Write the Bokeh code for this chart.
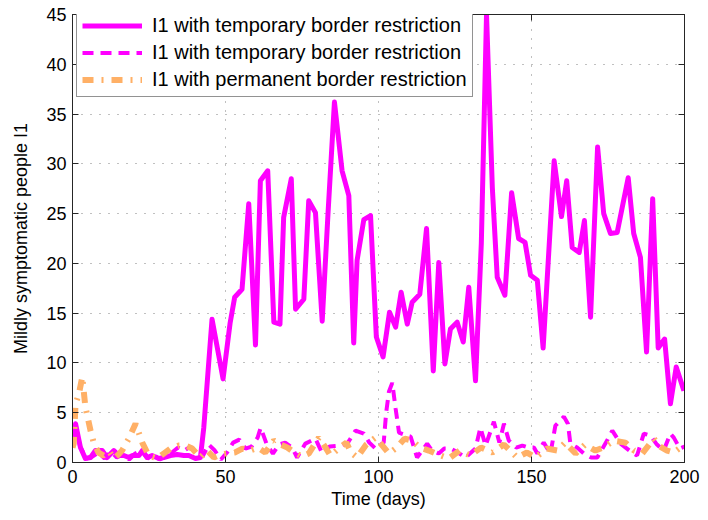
from bokeh.plotting import figure
from bokeh.models import (Range1d, LinearAxis, FixedTicker, Legend, LegendItem)
from bokeh.embed import file_html
from bokeh.resources import INLINE

# ---- data ----
t_temp_solid = [0.0, 1.0, 2.6, 4.2, 5.9, 7.5, 9.7, 11.3, 13.5, 15.1, 16.8, 18.4, 19.5, 21.7, 22.8,
                24.4, 26.0, 28.2, 29.8, 32.0, 34.2, 36.4, 38.0, 40.2, 41.8, 42.9, 45.6, 49.2, 51.5,
                53.0, 55.4, 57.6, 59.8, 61.4, 63.8, 65.8, 67.8, 69.0, 71.5, 72.9, 75.6, 77.2, 79.4,
                81.6, 83.5, 85.6, 88.1, 90.3, 91.9, 93.0, 95.2, 97.4, 99.3, 101.5, 103.6, 105.6,
                107.4, 109.4, 111.0, 113.5, 115.7, 117.9, 119.7, 121.7, 123.5, 125.7, 127.7, 129.5,
                131.7, 133.6, 135.3, 137.2, 138.8, 141.3, 143.5, 145.8, 147.9, 149.7, 151.9, 153.8,
                157.4, 159.8, 161.5, 163.3, 165.6, 167.3, 169.3, 171.6, 173.6, 175.8, 178.0, 181.6,
                183.4, 185.6, 187.6, 189.6, 191.4, 193.5, 195.4, 197.3, 199.8]
i1_temp_solid = [1.9, 3.9, 1.5, 0.4, 0.5, 1.2, 1.2, 0.5, 1.2, 0.7, 0.7, 0.5, 0.7, 0.7, 1.2,
                 0.5, 0.7, 0.4, 0.5, 0.7, 0.8, 0.7, 0.7, 0.4, 0.5, 3.5, 14.4, 8.4, 14.0,
                 16.6, 17.4, 26.0, 11.8, 28.3, 29.3, 14.1, 13.9, 24.6, 28.5, 15.4, 16.4, 26.3, 25.1,
                 14.2, 25.0, 36.2, 29.3, 26.8, 12.0, 20.3, 24.4, 24.8, 12.6, 10.6, 15.1, 13.6,
                 17.1, 13.9, 16.1, 16.9, 23.5, 9.2, 20.1, 9.9, 13.4, 14.1, 12.1, 17.6,
                 8.2, 22.0, 45.0, 27.6, 18.6, 16.8, 27.1, 22.5, 22.1, 18.8, 18.3, 11.5,
                 30.3, 24.7, 28.3, 21.6, 21.1, 24.3, 14.6, 31.7, 25.0, 23.0, 23.1, 28.6,
                 23.0, 20.6, 11.1, 26.5, 11.5, 12.4, 5.9, 9.6, 7.2]

t_temp_dash = [0.0, 1.0, 2.5, 4.5, 6.5, 8.5, 10.5, 12.5, 14.5, 16.5, 18.5, 20.5, 22.5, 24.5, 26.5,
               28.5, 30.5, 32.5, 34.5, 36.5, 38.5, 40.5, 42.5, 44.5, 46.5, 48.5, 50.5, 52.5, 54.5,
               56.5, 58.5, 60.5, 61.5, 63.5, 65.5, 67.5, 69.5, 71.8, 73.4, 76.1, 79.4, 81.5, 84.0,
               87.6, 90.0, 92.5, 95.2, 97.0, 99.0, 101.7, 102.5, 103.4, 104.5, 105.6, 106.7, 109.4,
               110.5, 112.6, 115.9, 117.5, 119.7, 121.5, 123.5, 126.0, 128.4, 131.7, 133.3, 135.0,
               137.7, 139.5, 141.0, 142.6, 145.0, 147.0, 149.0, 150.8, 151.9, 154.0, 156.2, 157.8,
               160.6, 161.9, 162.7, 164.9, 167.1, 169.5, 171.5, 174.7, 176.4, 179.1, 182.0, 184.5,
               186.7, 188.9, 191.0, 193.2, 195.4, 196.5, 198.5, 200.0]
i1_temp_dash = [2.0, 3.8, 1.6, 0.4, 0.6, 1.0, 0.4, 1.1, 0.5, 0.8, 0.3, 0.9, 1.2, 0.4, 0.8,
                0.3, 0.6, 1.0, 1.5, 1.2, 1.6, 1.0, 0.6, 1.8, 1.2, 0.3, 1.0, 2.0, 2.3,
                1.4, 1.6, 2.5, 3.5, 1.8, 0.9, 1.8, 2.0, 1.5, 0.5, 1.9, 2.4, 1.0, 1.6,
                1.7, 2.0, 3.2, 2.9, 2.0, 1.4, 2.0, 5.0, 7.1, 8.0, 5.4, 3.0, 2.7,
                2.6, 0.5, 1.9, 1.2, 0.9, 1.4, 1.4, 1.0, 0.5, 1.4, 3.5, 1.7,
                4.1, 2.0, 3.9, 2.2, 1.5, 1.7, 1.5, 1.5, 0.9, 2.0, 0.9, 3.7,
                4.6, 3.9, 1.9, 1.5, 0.9, 0.5, 0.5, 2.2, 3.2, 1.9, 1.2, 0.7,
                2.9, 2.7, 1.8, 1.2, 2.9, 2.5, 1.4, 1.6]

t_perm = [0.0, 0.4, 1.0, 2.1, 3.2, 4.2, 5.9, 7.0, 8.5, 10.2, 12.0, 13.5, 15.0, 16.2, 18.4, 20.6,
          22.8, 24.9, 27.7, 29.8, 32.0, 34.7, 36.9, 39.1, 41.8, 44.0, 46.2, 48.5, 50.5, 53.0,
          55.5, 58.0, 60.5, 63.0, 65.8, 68.0, 70.2, 72.5, 75.0, 77.2, 80.5, 82.5, 84.3, 87.0,
          89.5, 91.0, 93.0, 96.0, 99.0, 101.0, 103.4, 106.0, 108.5, 111.0, 113.5, 116.4, 119.5,
          123.0, 126.5, 130.0, 133.5, 137.2, 141.0, 145.3, 148.5, 151.3, 155.0, 158.4, 161.0,
          164.4, 167.5, 170.9, 173.5, 176.9, 180.7, 183.5, 186.2, 190.0, 192.0, 194.3, 196.5,
          198.7, 200.0]
i1_perm = [1.5, 1.9, 5.9, 6.9, 8.6, 5.6, 3.2, 1.9, 1.0, 0.7, 1.1, 0.4, 0.8, 1.2, 2.4, 3.9,
           2.0, 0.7, 0.4, 0.9, 1.4, 1.7, 1.7, 1.4, 0.5, 1.2, 0.5, 0.8, 0.9, 1.0,
           1.4, 1.2, 1.5, 1.0, 2.2, 1.8, 1.5, 1.0, 0.6, 0.9, 2.5, 1.6, 0.7, 1.4,
           2.0, 1.0, 0.5, 1.8, 2.5, 1.8, 0.9, 1.5, 2.4, 2.2, 1.5, 1.2, 0.8,
           0.4, 1.2, 0.7, 1.5, 1.0, 1.8, 0.5, 1.0, 0.5, 1.4, 1.2, 2.0,
           0.9, 1.8, 1.2, 1.5, 2.2, 2.0, 1.2, 0.9, 2.4, 1.6, 1.2, 1.0,
           1.5, 1.7]

x_ticks = [0, 50, 100, 150, 200]
y_ticks = [0, 5, 10, 15, 20, 25, 30, 35, 40, 45]

labels = ["I1 with temporary border restriction",
          "I1 with temporary border restriction",
          "I1 with permanent border restriction"]

MAGENTA = "#FF00FF"
ORANGE = "#FFB066"
FONT = "Liberation Sans"
AXIS_COLOR = "#262626"

p = figure(width=708, height=520, output_backend="svg", toolbar_location=None,
           x_range=Range1d(0, 200), y_range=Range1d(0, 45),
           min_border_left=72, min_border_right=24, min_border_top=14, min_border_bottom=58)
p.background_fill_color = "white"
p.border_fill_color = "white"
p.outline_line_color = AXIS_COLOR
p.outline_line_width = 1

r1 = p.line(t_temp_solid, i1_temp_solid, line_color=MAGENTA, line_width=5, line_join="round")
r2 = p.line(t_temp_dash, i1_temp_dash, line_color=MAGENTA, line_width=4, line_dash="11 7")
r3 = p.line(t_perm, i1_perm, line_color=ORANGE, line_width=6, line_dash="11 8 2 8")

for ax, ticks in ((p.xaxis[0], x_ticks), (p.yaxis[0], y_ticks)):
    ax.ticker = FixedTicker(ticks=ticks)
    ax.major_tick_in = 6
    ax.major_tick_out = 0
    ax.minor_tick_in = 0
    ax.minor_tick_out = 0
    ax.axis_line_color = AXIS_COLOR
    ax.major_tick_line_color = AXIS_COLOR
    ax.major_label_text_font = FONT
    ax.major_label_text_font_size = "18px"
    ax.major_label_text_color = "black"
    ax.axis_label_text_font = FONT
    ax.axis_label_text_font_size = "18px"
    ax.axis_label_text_font_style = "normal"
    ax.axis_label_text_color = "black"

p.xaxis[0].axis_label = "Time (days)"
p.xaxis[0].major_label_standoff = 7
p.xaxis[0].axis_label_standoff = 3
p.yaxis[0].axis_label = "Mildly symptomatic people I1"
p.yaxis[0].major_label_standoff = 6
p.yaxis[0].axis_label_standoff = 12

# mirrored ticks on top and right (MATLAB box style), without labels
for loc, ticks in (("right", y_ticks), ("above", x_ticks)):
    a = LinearAxis(ticker=FixedTicker(ticks=ticks), major_tick_in=6, major_tick_out=0,
                   minor_tick_in=0, minor_tick_out=0,
                   major_label_overrides={t: "" for t in ticks},
                   major_label_standoff=0, axis_line_color=AXIS_COLOR,
                   major_tick_line_color=AXIS_COLOR)
    p.add_layout(a, loc)

for g, ticks in ((p.xgrid[0], x_ticks), (p.ygrid[0], y_ticks)):
    g.ticker = FixedTicker(ticks=ticks)
    g.grid_line_color = "#808080"
    g.grid_line_dash = "1 8"
    g.grid_line_width = 1

legend = Legend(items=[LegendItem(label=labels[0], renderers=[r1]),
                       LegendItem(label=labels[1], renderers=[r2]),
                       LegendItem(label=labels[2], renderers=[r3])],
                location=(4, 365))
legend.label_text_font = FONT
legend.label_text_font_size = "20px"
legend.label_text_color = "black"
legend.glyph_width = 60
legend.glyph_height = 21
legend.label_height = 21
legend.label_standoff = 10
legend.spacing = 4
legend.padding = 5
legend.margin = 0
legend.border_line_color = AXIS_COLOR
legend.border_line_width = 1
legend.background_fill_color = "white"
legend.background_fill_alpha = 1
p.add_layout(legend)

open("out.html", "w").write(file_html(p, INLINE))
